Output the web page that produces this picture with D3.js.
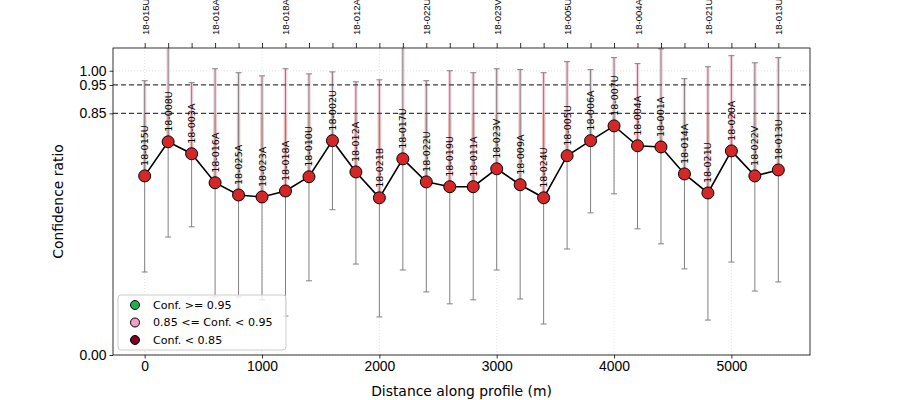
<!DOCTYPE html>
<html>
<head>
<meta charset="utf-8">
<script src="https://cdn.jsdelivr.net/npm/d3@7"></script>
<style>
 body { margin: 0; background: #fff; }
 svg { font-family: "DejaVu Sans", sans-serif; }
</style>
</head>
<body>
<div id="chart"></div>
<script>
// station data along the profile
var stations = ["18-015U","18-008U","18-003A","18-016A","18-025A","18-023A","18-018A","18-010U","18-002U","18-012A",
 "18-021B","18-017U","18-022U","18-019U","18-011A","18-023V","18-009A","18-024U","18-005U","18-006A",
 "18-007U","18-004A","18-001A","18-014A","18-021U","18-020A","18-022V","18-013U"];
var distance = [0,200,400,600,800,1000,1200,1400,1600,1800,2000,2200,2400,2600,2800,3000,3200,3400,3600,3800,
 4000,4200,4400,4600,4800,5000,5200,5400];
var confidence = [0.630,0.750,0.708,0.606,0.563,0.556,0.577,0.627,0.754,0.644,0.553,0.690,0.609,0.592,0.592,0.655,
 0.599,0.553,0.701,0.754,0.806,0.736,0.732,0.637,0.570,0.718,0.630,0.651];
var lower = [0.292,0.415,0.451,0.204,0.204,0.194,0.137,0.261,0.511,0.320,0.134,0.299,0.222,0.180,0.194,0.299,
 0.197,0.109,0.373,0.500,0.567,0.444,0.391,0.303,0.123,0.327,0.225,0.257];
var upper = [0.965,1.120,0.958,1.007,0.993,0.982,1.007,0.989,0.996,0.961,0.968,1.110,0.965,1.000,0.993,1.007,
 1.004,0.993,1.032,1.004,1.046,1.025,1.077,0.972,1.014,1.053,1.028,1.046];
var thresholds = [0.85, 0.95];
var yTicks = [0, 0.85, 0.95, 1.0];
var xTicks = [0,1000,2000,3000,4000,5000];
var legendItems = ["Conf. >= 0.95", "0.85 <= Conf. < 0.95", "Conf. < 0.85"];
var legendColors = ["#1db14f", "#f59ec4", "#7f0021"];

var w = 900, h = 400;
var m = {left: 113, right: 90, top: 48, bottom: 45};
var iw = w - m.left - m.right, ih = h - m.top - m.bottom;

var data = distance.map(function(d, i) {
  return {x: d, id: stations[i], c: confidence[i], lo: lower[i], hi: upper[i]};
});

var svg = d3.select("#chart").append("svg").attr("width", w).attr("height", h);
var g = svg.append("g").attr("transform", "translate(" + m.left + "," + m.top + ")");

var x = d3.scaleLinear().domain([-270, 5670]).range([0, iw]);
var y = d3.scaleLinear().domain([0, 1.08]).range([ih, 0]);

svg.append("defs").append("clipPath").attr("id", "clip")
  .append("rect").attr("width", iw).attr("height", ih);

// grid
g.selectAll(".gx").data(xTicks).enter().append("line")
  .attr("x1", function(d){ return x(d); }).attr("x2", function(d){ return x(d); })
  .attr("y1", 0).attr("y2", ih)
  .attr("stroke", "#dddddd").attr("stroke-width", 0.8).attr("stroke-dasharray", "1,2");
g.selectAll(".gy").data(yTicks).enter().append("line")
  .attr("x1", 0).attr("x2", iw)
  .attr("y1", function(d){ return y(d); }).attr("y2", function(d){ return y(d); })
  .attr("stroke", "#dddddd").attr("stroke-width", 0.8).attr("stroke-dasharray", "1,2");

var plot = g.append("g").attr("clip-path", "url(#clip)");

// pink stripes from point up to upper bound
plot.selectAll(".pk").data(data).enter().append("line")
  .attr("x1", function(d){ return x(d.x); }).attr("x2", function(d){ return x(d.x); })
  .attr("y1", function(d){ return y(d.c); }).attr("y2", y(0.85))
  .attr("stroke", "#e08c8c").attr("stroke-opacity", 0.6).attr("stroke-width", 3.5);
plot.selectAll(".pk2").data(data).enter().append("line")
  .attr("x1", function(d){ return x(d.x); }).attr("x2", function(d){ return x(d.x); })
  .attr("y1", y(0.85)).attr("y2", function(d){ return y(d.hi); })
  .attr("stroke", "#f0b8cf").attr("stroke-opacity", 0.6).attr("stroke-width", 3.5);

// error bars
plot.selectAll(".eb").data(data).enter().append("line")
  .attr("x1", function(d){ return x(d.x); }).attr("x2", function(d){ return x(d.x); })
  .attr("y1", function(d){ return y(d.lo); }).attr("y2", function(d){ return y(d.hi); })
  .attr("stroke", "#808080").attr("stroke-width", 1);
["lo", "hi"].forEach(function(k) {
  plot.selectAll(".cap" + k).data(data).enter().append("line")
    .attr("x1", function(d){ return x(d.x) - 3; }).attr("x2", function(d){ return x(d.x) + 3; })
    .attr("y1", function(d){ return y(d[k]); }).attr("y2", function(d){ return y(d[k]); })
    .attr("stroke", "#808080").attr("stroke-width", 1);
});

// threshold lines
g.selectAll(".th").data(thresholds).enter().append("line")
  .attr("x1", 0).attr("x2", iw)
  .attr("y1", function(d){ return y(d); }).attr("y2", function(d){ return y(d); })
  .attr("stroke", "#404040").attr("stroke-width", 1.3).attr("stroke-dasharray", "5,3");

// line and points
plot.append("path").datum(data)
  .attr("fill", "none").attr("stroke", "#000").attr("stroke-width", 1.6)
  .attr("d", d3.line().x(function(d){ return x(d.x); }).y(function(d){ return y(d.c); }));
plot.selectAll("circle").data(data).enter().append("circle")
  .attr("cx", function(d){ return x(d.x); }).attr("cy", function(d){ return y(d.c); })
  .attr("r", 6).attr("fill", "#d62728").attr("stroke", "#000").attr("stroke-width", 1);

// station labels above points
g.selectAll(".lab").data(data).enter().append("text")
  .attr("transform", function(d){ return "translate(" + (x(d.x) + 3.5) + "," + (y(d.c) - 10) + ") rotate(-90)"; })
  .attr("font-size", 9.5).attr("fill", "#000")
  .text(function(d){ return d.id; });

// axes
var xAxis = g.append("g").attr("transform", "translate(0," + ih + ")")
  .call(d3.axisBottom(x).tickValues(xTicks).tickFormat(d3.format("d")).tickSize(3.5).tickPadding(3));
var yAxis = g.append("g")
  .call(d3.axisLeft(y).tickValues(yTicks).tickFormat(d3.format(".2f")).tickSize(3.5).tickPadding(3));
var topAxis = g.append("g")
  .call(d3.axisTop(x).tickValues(distance).tickSize(5).tickPadding(4)
    .tickFormat(function(d, i){ return i % 3 === 0 ? stations[i] : ""; }));
topAxis.selectAll("text").attr("font-size", 9.5).attr("fill", "#000")
  .attr("transform", "rotate(-90)").attr("text-anchor", "start")
  .attr("x", 13).attr("y", 3.5).attr("dy", 0);

[xAxis, yAxis].forEach(function(a){ a.selectAll("text").attr("font-size", 13.9).attr("fill", "#000"); });
[xAxis, yAxis, topAxis].forEach(function(a){
  a.selectAll("line").attr("stroke", "#000").attr("stroke-width", 0.8);
  a.select(".domain").remove();
});
g.append("rect").attr("width", iw).attr("height", ih)
  .attr("fill", "none").attr("stroke", "#000").attr("stroke-width", 0.8);

// axis titles
svg.append("text").attr("x", m.left + iw / 2).attr("y", 396).attr("text-anchor", "middle")
  .attr("font-size", 13.9).text("Distance along profile (m)");
svg.append("text").attr("transform", "translate(63," + (m.top + ih / 2) + ") rotate(-90)")
  .attr("text-anchor", "middle").attr("font-size", 13.9).text("Confidence ratio");

// legend
var lg = g.append("g").attr("transform", "translate(5,247)");
lg.append("rect").attr("width", 168).attr("height", 55).attr("rx", 3)
  .attr("fill", "#fff").attr("fill-opacity", 0.8).attr("stroke", "#cccccc");
legendItems.forEach(function(t, i) {
  lg.append("circle").attr("cx", 17).attr("cy", 10 + i * 17.5).attr("r", 4.5)
    .attr("fill", legendColors[i]).attr("stroke", "#000").attr("stroke-width", 1);
  lg.append("text").attr("x", 35).attr("y", 10 + i * 17.5).attr("dy", "0.35em")
    .attr("font-size", 11.1).text(t);
});
</script>
</body>
</html>
